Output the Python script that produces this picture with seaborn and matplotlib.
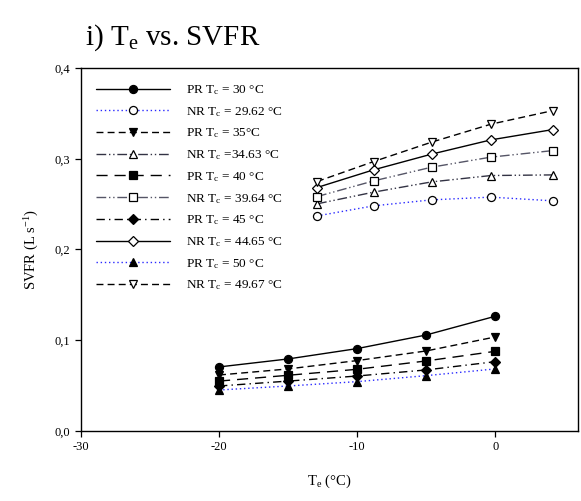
import matplotlib
matplotlib.use("Agg")
import matplotlib.pyplot as plt
import seaborn as sns
import pandas as pd
from matplotlib.ticker import FuncFormatter

sns.set_theme(style="ticks")
plt.rcParams['font.family'] = ['Liberation Serif', 'DejaVu Serif']
plt.rcParams['mathtext.fontset'] = 'custom'
plt.rcParams['mathtext.rm'] = 'Liberation Serif'
plt.rcParams['mathtext.it'] = 'Liberation Serif:italic'
plt.rcParams['axes.unicode_minus'] = False
plt.rcParams['text.color'] = 'black'
plt.rcParams['axes.labelcolor'] = 'black'

# ---- data ----
te_pr = [-20, -15, -10, -5, 0]
te_nr = [-12.9, -8.8, -4.6, -0.3, 4.2]

pr30 = [0.0706, 0.0794, 0.0908, 0.1058, 0.1264]
pr35 = [0.0617, 0.0684, 0.0776, 0.0882, 0.1036]
pr40 = [0.0550, 0.0614, 0.0680, 0.0772, 0.0878]
pr45 = [0.0496, 0.0550, 0.0606, 0.0673, 0.0764]
pr50 = [0.0452, 0.0496, 0.0544, 0.0610, 0.0684]

nr2962 = [0.2370, 0.2481, 0.2547, 0.2577, 0.2536]
nr3463 = [0.2503, 0.2632, 0.2745, 0.2815, 0.2822]
nr3964 = [0.2583, 0.2756, 0.2907, 0.3018, 0.3090]
nr4465 = [0.2683, 0.2878, 0.3051, 0.3208, 0.3322]
nr4967 = [0.2749, 0.2969, 0.3183, 0.3381, 0.3531]

labels = [
    r"PR T$_\mathrm{c}$ = 30 °C",
    r"NR T$_\mathrm{c}$ = 29.62 °C",
    r"PR T$_\mathrm{c}$ = 35°C",
    r"NR T$_\mathrm{c}$ =34.63 °C",
    r"PR T$_\mathrm{c}$ = 40 °C",
    r"NR T$_\mathrm{c}$ = 39.64 °C",
    r"PR T$_\mathrm{c}$ = 45 °C",
    r"NR T$_\mathrm{c}$ = 44.65 °C",
    r"PR T$_\mathrm{c}$ = 50 °C",
    r"NR T$_\mathrm{c}$ = 49.67 °C",
]
yticks = [0.0, 0.1, 0.2, 0.3, 0.4]
xticks = [-30, -20, -10, 0]

series = [
    (te_pr, pr30), (te_nr, nr2962), (te_pr, pr35), (te_nr, nr3463),
    (te_pr, pr40), (te_nr, nr3964), (te_pr, pr45), (te_nr, nr4465),
    (te_pr, pr50), (te_nr, nr4967),
]

blue = '#2a2aff'
styles = [
    dict(color='black', ls='-', marker='o', mfc='black'),
    dict(color=blue, ls=(0, (1, 2)), marker='o', mfc='white'),
    dict(color='black', ls=(0, (5, 3)), marker='v', mfc='black'),
    dict(color='#333344', ls=(0, (7, 2, 1, 2, 1, 2)), marker='^', mfc='white'),
    dict(color='black', ls=(0, (8, 5)), marker='s', mfc='black'),
    dict(color='#555566', ls=(0, (7, 2, 1, 2, 1, 2)), marker='s', mfc='white'),
    dict(color='black', ls=(0, (6, 3, 1, 3)), marker='D', mfc='black'),
    dict(color='black', ls='-', marker='D', mfc='white'),
    dict(color=blue, ls=(0, (1, 2)), marker='^', mfc='black'),
    dict(color='black', ls=(0, (5, 3)), marker='v', mfc='white'),
]

fig = plt.figure(figsize=(5.81, 5.01), dpi=100)
ax = fig.add_axes([0.1394, 0.1397, 0.8554, 0.7246])

for (xs, ys), lab, st in zip(series, labels, styles):
    df = pd.DataFrame({'Te': xs, 'SVFR': ys})
    ms = 5.0 if st['marker'] == 'D' else 5.8
    sns.lineplot(data=df, x='Te', y='SVFR', ax=ax, color=st['color'],
                 linestyle=st['ls'], linewidth=1.0, marker=st['marker'],
                 markersize=ms, markerfacecolor=st['mfc'],
                 markeredgecolor='black', markeredgewidth=0.9,
                 label=lab, estimator=None, sort=False)

ax.set_xlim(-30, 6)
ax.set_ylim(0, 0.4)
ax.set_xticks(xticks)
ax.set_yticks(yticks)
ax.yaxis.set_major_formatter(FuncFormatter(lambda v, p: f"{v:.1f}".replace('.', ',')))
ax.tick_params(direction='out', length=4, width=0.9, labelsize=9, colors='black')
for s in ax.spines.values():
    s.set_linewidth(1.0)
    s.set_color('black')
    s.set_visible(True)

ax.set_xlabel(r"T$_\mathrm{e}$ (°C)", fontsize=10.5, labelpad=14)
ax.set_ylabel(r"SVFR (L s$^{-1}$)", fontsize=10.5, labelpad=10)

leg = ax.legend(loc='upper left', frameon=False, fontsize=9.5,
                handlelength=5.6, handletextpad=1.2, labelspacing=0.6,
                borderaxespad=0.6, borderpad=0.55)

fig.text(0.146, 0.925, r"i) T$_\mathrm{e}$ vs. SVFR", fontsize=21, ha='left', va='center')

fig.savefig("out.png", dpi=100)
